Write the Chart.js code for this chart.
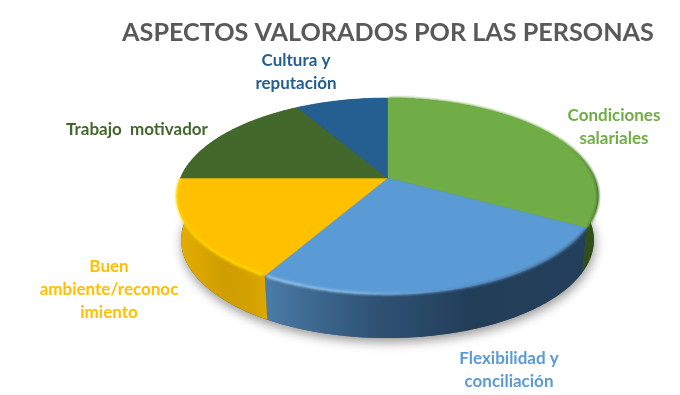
<!DOCTYPE html>
<html>
<head>
<meta charset="utf-8">
<script src="https://cdn.jsdelivr.net/npm/chart.js@4"></script>
<style>
  html, body { margin: 0; padding: 0; background: #fff; }
  #wrap { width: 680px; height: 395px; }
</style>
</head>
<body>
<div id="wrap"><canvas id="pie" width="680" height="395"></canvas></div>
<script>
const titleText = 'ASPECTOS VALORADOS POR LAS PERSONAS';
const categories = ['Condiciones salariales', 'Flexibilidad y conciliación', 'Buen ambiente/reconocimiento', 'Trabajo motivador', 'Cultura y reputación'];
const values = [33, 25.3, 16.7, 16.6, 8.4];
const colors = ['#70ad47', '#5b9bd5', '#ffc000', '#43682b', '#255e91'];
const labelLines = [
    ['Condiciones', 'salariales'],
    ['Flexibilidad y', 'conciliación'],
    ['Buen', 'ambiente/reconoc', 'imiento'],
    ['Trabajo  motivador'],
    ['Cultura y', 'reputación']
];

// where the label block of each slice sits (x centre, first baseline)
const labelAnchors = [[614, 121], [509, 364], [109, 272], [137, 135], [296, 66]];

// perspective disc
const cx = 387.5, cy = 178, A = 207, B = 94.7, P = 0.184, DEPTH = 44, SHRINK = 0.98;

const project = (a, lower) => {
    const x = Math.cos(a), y = Math.sin(a), w = 1 - P * y;
    const sx = A * x / w, sy = cy + B * y / w;
    return lower ? [cx + sx * SHRINK, sy + DEPTH] : [cx + sx, sy];
};

const rim = (start, end, lower) => {
    const n = Math.max(2, Math.ceil((end - start) * 60));
    return Array.from({ length: n + 1 }, (_, i) => project(start + (end - start) * i / n, lower));
};

const tracePath = (ctx, pts) => pts.forEach((p, i) => i ? ctx.lineTo(p[0], p[1]) : ctx.moveTo(p[0], p[1]));

const hGrad = (ctx, stops) => {
    const g = ctx.createLinearGradient(170, 0, 600, 0);
    stops.forEach(s => g.addColorStop((s[0] - 170) / 430, s[1]));
    return g;
};

const sideFill = (ctx) => [
    '#2f4f16',
    hGrad(ctx, [[266, '#4b7ca9'], [300, '#416d96'], [370, '#305476'], [470, '#223e59'], [590, '#233f5b']]),
    hGrad(ctx, [[178, '#e6ae00'], [225, '#cf9d00'], [250, '#d4a100'], [268, '#dfa900']]),
    '#2f4f16',
    '#1a4468'
];

const rimStroke = (ctx) => [
    hGrad(ctx, [[390, '#70ad47'], [565, '#70ad47'], [590, '#5c8a3a'], [598, '#47692a']]),
    hGrad(ctx, [[266, '#a6cff2'], [350, '#8fbfe9'], [430, '#5f97cc'], [500, '#4c7dab'], [585, '#3a6288']]),
    hGrad(ctx, [[178, '#ffd800'], [268, '#ffdf00']]),
    '#43682b',
    '#255e91'
];

const pie3d = {
    id: 'pie3d',
    beforeDatasetsDraw(chart) {
        const ctx = chart.ctx;
        const arcs = chart.getDatasetMeta(0).data;
        const sides = sideFill(ctx), strokes = rimStroke(ctx);

        // soft shadow under the disc
        ctx.save();
        ctx.shadowColor = 'rgba(0,0,0,0.42)';
        ctx.shadowBlur = 11;
        ctx.shadowOffsetX = 1;
        ctx.shadowOffsetY = 4;
        ctx.fillStyle = '#555';
        ctx.beginPath();
        tracePath(ctx, rim(0, Math.PI * 2, true));
        ctx.closePath();
        ctx.fill();
        ctx.restore();

        // walls
        arcs.forEach((arc, i) => {
            const top = rim(arc.startAngle, arc.endAngle, false);
            const low = rim(arc.startAngle, arc.endAngle, true).reverse();
            ctx.beginPath();
            tracePath(ctx, top.concat(low));
            ctx.closePath();
            ctx.fillStyle = sides[i];
            ctx.fill();
        });

        // top faces
        arcs.forEach((arc, i) => {
            ctx.beginPath();
            ctx.moveTo(cx, cy);
            rim(arc.startAngle, arc.endAngle, false).forEach(p => ctx.lineTo(p[0], p[1]));
            ctx.closePath();
            ctx.fillStyle = colors[i];
            ctx.strokeStyle = colors[i];
            ctx.lineWidth = 0.6;
            ctx.fill();
            ctx.stroke();
        });

        // bevel along the edge
        ctx.save();
        ctx.filter = 'blur(1.2px)';
        ctx.lineWidth = 2.2;
        arcs.slice(0, 3).forEach((arc, i) => {
            ctx.beginPath();
            tracePath(ctx, rim(arc.startAngle + 0.01, arc.endAngle - 0.01, false));
            ctx.strokeStyle = strokes[i];
            ctx.stroke();
        });
        ctx.restore();

        return false;
    },
    afterDraw(chart) {
        const ctx = chart.ctx;
        ctx.save();
        ctx.font = 'bold 17px Lato';
        ctx.textAlign = 'center';
        labelLines.forEach((lines, i) => {
            ctx.fillStyle = colors[i];
            lines.forEach((line, j) => ctx.fillText(line, labelAnchors[i][0], labelAnchors[i][1] + j * 23));
        });
        ctx.restore();
    }
};

new Chart(document.getElementById('pie').getContext('2d'), {
    type: 'pie',
    data: {
        labels: categories,
        datasets: [{ data: values, backgroundColor: colors, borderWidth: 0 }]
    },
    options: {
        responsive: false,
        animation: false,
        layout: { padding: { left: 96, top: 18 } },
        plugins: {
            legend: { display: false },
            title: {
                display: true,
                text: titleText,
                color: '#595959',
                font: { family: 'Lato', size: 25.2, weight: 'bold' },
                padding: 0
            }
        }
    },
    plugins: [pie3d]
});
</script>
</body>
</html>
